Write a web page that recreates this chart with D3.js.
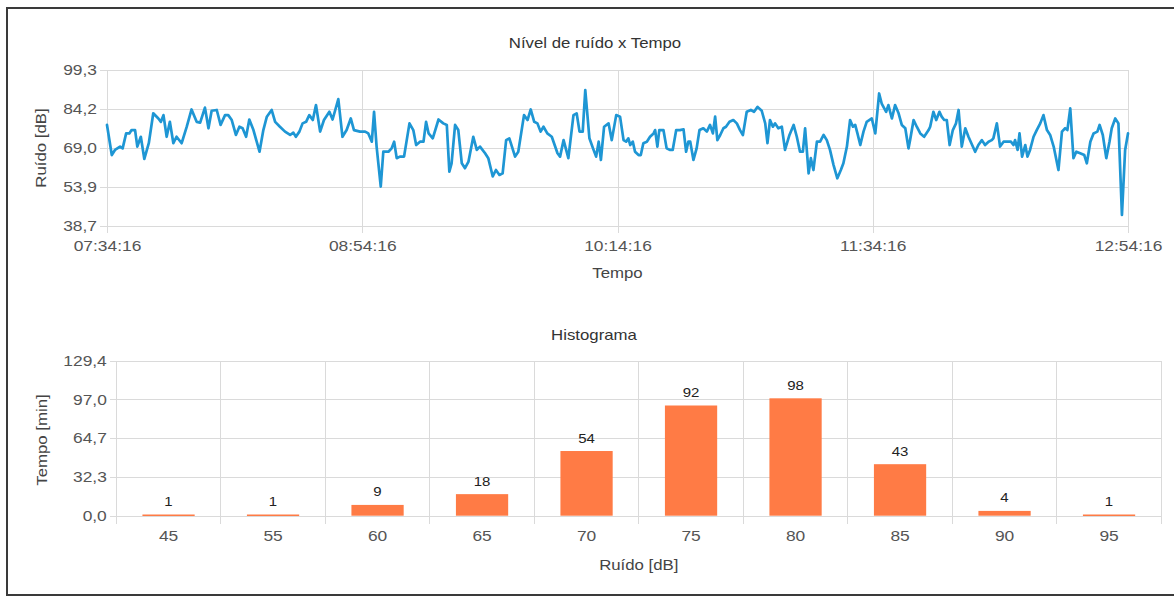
<!DOCTYPE html>
<html>
<head>
<meta charset="utf-8">
<script src="https://cdn.jsdelivr.net/npm/d3@7"></script>
<style>
  html, body { margin: 0; padding: 0; background: #fff; }
  svg { display: block; font-family: "Liberation Sans", Arial, sans-serif; }
</style>
</head>
<body>
<svg id="chart" width="1174" height="596"></svg>
<script>
// ---------------- DATA ----------------
const startTime = "07:34:16";
const timeTicks = ["07:34:16", "08:54:16", "10:14:16", "11:34:16", "12:54:16"];
const noiseTicks = [38.7, 53.85, 69.0, 84.15, 99.3];
const noiseTickLabels = ["38,7", "53,9", "69,0", "84,2", "99,3"];

// minutes elapsed since start, and noise level in dB
const minutes = [
  0,1.5,2.5,4.1,4.9,6.0,7.0,7.7,8.8,9.5,10.6,11.7,13.1,14.5,16.1,16.9,17.7,18.7,19.7,20.8,
  21.8,23.4,25.0,26.5,28.1,29.2,30.7,31.8,32.8,34.4,35.6,37.0,38.0,39.1,40.4,41.5,42.5,43.6,44.6,45.9,
  47.8,49.0,50.1,51.6,52.7,54.2,55.8,57.4,58.4,59.2,60.3,61.3,62.4,63.4,64.5,65.5,66.8,68.0,69.7,70.7,
  72.5,73.8,75.1,76.4,77.4,79.3,
  80.9,81.9,83.0,83.7,84.5,85.8,86.6,88.2,89.2,90.0,90.8,91.8,93.1,94.8,96.0,96.9,98.1,99.2,100.0,100.8,
  102.1,103.9,105.4,106.5,107.3,108.0,109.1,110.1,111.2,112.2,113.3,114.8,115.9,116.9,118.5,119.5,120.9,121.9,123.0,124.0,
  125.1,126.1,127.9,128.9,130.7,131.8,132.8,133.9,134.9,135.9,136.8,138.0,139.4,141.2,142.0,143.1,144.6,146.2,147.2,148.1,
  149.1,149.9,151.2,152.5,153.3,154.1,154.8,155.8,157.2,158.2,159.6,160.8,
  161.9,162.7,163.4,164.0,164.8,165.5,166.6,167.3,168.1,169.2,170.2,171.3,171.8,172.5,173.1,174.4,175.4,176.5,177.3,178.4,
  179.6,180.7,181.5,182.2,182.8,183.8,184.8,185.7,186.9,188.0,189.0,189.9,190.6,191.3,192.2,193.2,194.0,195.1,196.3,197.4,
  198.4,199.3,200.5,201.8,202.8,203.9,205.2,206.3,207.0,207.8,208.7,209.4,210.4,211.5,212.5,213.9,215.2,216.2,217.2,218.1,
  218.8,219.9,220.6,221.4,222.5,223.5,224.6,225.6,226.6,227.7,228.9,230.0,230.8,231.9,232.9,233.8,234.5,235.2,236.1,237.1,
  238.1,239.7,240.8,242.0,
  242.8,244.2,244.9,246.0,247.0,248.1,249.1,250.2,251.2,251.7,252.8,253.8,254.9,256.1,257.5,258.0,259.0,259.9,260.9,261.6,
  262.4,263.2,264.1,265.1,266.1,266.9,267.9,269.0,270.0,272.1,273.1,274.2,275.2,276.3,277.3,277.8,278.9,279.9,281.0,282.0,
  283.3,284.1,284.6,285.4,286.0,286.8,287.8,288.5,289.3,290.4,291.4,292.5,293.5,294.6,295.6,296.7,298.2,299.3,300.3,301.0,
  301.9,302.9,303.8,305.0,306.3,307.1,308.2,309.2,310.4,311.1,312.1,313.2,314.2,314.9,316.0,317.0,318.1,319.1,320.0
];
const noise = [
  77.8,66.1,68.1,69.4,68.7,74.5,74.5,75.8,75.8,69.4,73.2,64.6,70.7,82.3,80.3,79.0,81.6,73.2,79.0,70.7,
  73.2,70.7,77.1,83.8,79.0,78.7,84.5,76.5,83.3,83.6,77.8,81.6,81.6,79.7,73.9,77.1,76.5,73.2,79.9,75.8,
  67.4,75.8,81.0,83.6,79.0,77.1,75.2,73.9,74.8,73.2,75.2,78.4,79.0,81.6,79.7,85.5,75.2,79.7,82.9,79.9,
  87.8,73.2,75.8,80.3,75.8,75.2,
  75.2,74.5,71.3,82.9,69.4,53.9,67.4,67.4,68.7,71.3,64.9,65.5,65.5,78.4,75.8,70.0,71.3,71.3,79.0,74.5,
  72.6,79.9,78.4,77.8,59.7,62.9,77.8,75.8,62.9,61.0,63.6,73.2,68.1,69.4,66.8,64.9,57.8,60.3,58.4,59.0,
  71.9,72.6,65.5,67.4,81.6,79.7,83.8,79.0,78.4,75.2,77.1,74.5,73.2,66.8,65.5,71.9,64.9,81.6,82.3,75.2,
  75.2,91.3,72.6,68.1,65.5,71.3,64.2,77.1,78.4,71.9,81.6,81.0,
  71.9,71.3,72.6,70.0,71.3,67.4,66.1,66.1,70.7,71.3,73.2,74.5,75.8,69.4,75.8,75.8,68.7,68.1,68.1,75.8,
  75.8,76.1,67.4,71.3,71.3,64.2,68.7,75.8,76.5,75.2,77.8,74.5,81.0,71.9,73.9,76.5,77.1,79.0,79.7,78.4,
  75.8,73.9,82.9,83.6,82.9,84.8,83.3,78.4,70.7,79.7,77.1,78.4,76.5,77.1,68.1,73.9,77.8,73.2,67.4,67.4,
  76.5,59.0,64.9,60.3,71.3,71.3,73.9,71.9,68.1,62.3,57.1,60.3,62.9,69.4,79.7,77.1,77.8,74.5,70.0,75.2,
  79.0,80.3,74.5,90.0,
  86.1,82.9,85.5,80.3,85.5,82.3,77.8,76.5,68.7,71.9,79.7,77.1,74.5,73.2,75.8,77.1,82.9,79.7,82.9,81.0,
  79.7,79.7,70.0,75.8,78.4,83.6,69.4,76.5,73.2,67.4,70.0,71.9,70.0,71.3,71.9,72.6,78.4,69.4,71.3,71.3,
  71.3,70.0,71.9,68.1,74.5,65.5,70.0,65.5,68.1,73.2,75.8,78.4,81.6,75.8,73.9,69.4,60.3,75.2,76.5,75.8,
  84.2,64.9,67.4,66.8,66.1,62.9,71.3,74.5,75.2,77.8,73.9,64.9,71.3,76.5,80.3,78.4,42.9,68.1,74.5
];

const histBins = ["45", "55", "60", "65", "70", "75", "80", "85", "90", "95"];
const histCounts = [1, 1, 9, 18, 54, 92, 98, 43, 4, 1];
const histTicks = [0, 32.35, 64.7, 97.05, 129.4];
const histTickLabels = ["0,0", "32,3", "64,7", "97,0", "129,4"];

// ---------------- DRAWING ----------------
const svg = d3.select("#chart");
const SX = 1.2;          // horizontal stretch of the reference typography
const GRID = "#dadada";
const TICK_TXT = "#555";
const TITLE_TXT = "#333";

svg.append("rect").attr("x", 0).attr("y", 0).attr("width", 1174).attr("height", 596).attr("fill", "#fff");
svg.append("rect").attr("x", 7).attr("y", 8).attr("width", 1190).attr("height", 587)
  .attr("fill", "none").attr("stroke", "#3a3a3a").attr("stroke-width", 2);

function label(x, y, s, opt = {}) {
  const rot = opt.rotate ? ` rotate(${opt.rotate})` : "";
  svg.append("text")
    .attr("transform", `translate(${x},${y})${rot} scale(${SX},1)`)
    .attr("text-anchor", opt.anchor || "middle")
    .attr("font-size", opt.size || 14)
    .attr("fill", opt.fill || TITLE_TXT)
    .text(s);
}
function styleAxis(g, size) {
  g.select(".domain").remove();
  g.selectAll(".tick line").attr("stroke", GRID).attr("stroke-width", 1).attr("shape-rendering", "crispEdges");
  g.selectAll(".tick text").attr("fill", TICK_TXT).attr("font-size", size)
    .attr("font-family", "'Liberation Sans', Arial, sans-serif")
    .each(function () {
      const t = d3.select(this);
      const x = +t.attr("x") || 0, y = +t.attr("y") || 0;
      t.attr("transform", `translate(${x},${y}) scale(${SX},1)`).attr("x", 0).attr("y", 0);
    });
}

// ---- Line chart ----
const parseT = d3.timeParse("%H:%M:%S");
const t0 = parseT(startTime);
const P1 = { left: 107, right: 1128, top: 69.5, bottom: 225.7 };
const x1 = d3.scaleTime()
  .domain([parseT(timeTicks[0]), parseT(timeTicks[timeTicks.length - 1])])
  .range([P1.left, P1.right]);
const y1 = d3.scaleLinear().domain([38.7, 99.3]).range([P1.bottom, P1.top]);

const gy1 = svg.append("g").attr("transform", `translate(${P1.left - 7},0)`)
  .call(d3.axisLeft(y1).tickValues(noiseTicks)
    .tickFormat((d, i) => noiseTickLabels[i])
    .tickSizeInner(-(P1.right - P1.left + 7)).tickSizeOuter(0).tickPadding(3));
styleAxis(gy1, 14.5);
gy1.selectAll(".tick line").attr("x2", P1.right - P1.left + 7);

const gx1 = svg.append("g").attr("transform", `translate(0,${P1.bottom + 7})`)
  .call(d3.axisBottom(x1).tickValues(timeTicks.map(parseT))
    .tickFormat(d3.timeFormat("%H:%M:%S"))
    .tickSizeInner(-(P1.bottom + 7 - P1.top)).tickSizeOuter(0).tickPadding(8));
styleAxis(gx1, 14.5);

const pts = d3.zip(minutes, noise).map(([m, v]) => ({ t: d3.timeSecond.offset(t0, Math.round(m * 60)), v }));
svg.append("path").datum(pts)
  .attr("fill", "none").attr("stroke", "#1e96d4").attr("stroke-width", 2.7)
  .attr("stroke-linejoin", "round").attr("stroke-linecap", "round")
  .attr("d", d3.line().x(d => x1(d.t)).y(d => y1(d.v)));

label(595, 47.5, "Nível de ruído x Tempo", { size: 14 });
label((P1.left + P1.right) / 2, 278, "Tempo", { size: 14, fill: "#444" });
label(46, 148, "Ruído [dB]", { size: 14, rotate: -90, fill: "#444" });

// ---- Histogram ----
const P2 = { left: 116.3, right: 1161.3, top: 360.7, bottom: 515.7 };
const xb = d3.scaleBand().domain(histBins).range([P2.left, P2.right]).paddingInner(0.5).paddingOuter(0.25);
const y2 = d3.scaleLinear().domain([0, 129.4]).range([P2.bottom, P2.top]);

const gy2 = svg.append("g").attr("transform", `translate(${P2.left - 6.5},0)`)
  .call(d3.axisLeft(y2).tickValues(histTicks)
    .tickFormat((d, i) => histTickLabels[i])
    .tickSizeInner(-(P2.right - P2.left + 6.5)).tickSizeOuter(0).tickPadding(3));
styleAxis(gy2, 14.5);

// band boundaries (vertical grid)
const bounds = d3.range(histBins.length + 1).map(i => P2.left + i * xb.step());
svg.append("g").selectAll("line").data(bounds).join("line")
  .attr("x1", d => d).attr("x2", d => d).attr("y1", P2.top).attr("y2", P2.bottom + 8)
  .attr("stroke", GRID).attr("shape-rendering", "crispEdges");

const gx2 = svg.append("g").attr("transform", `translate(0,${P2.bottom})`)
  .call(d3.axisBottom(xb).tickSize(0).tickPadding(15));
gx2.selectAll(".tick line").remove();
styleAxis(gx2, 14.5);

svg.append("g").selectAll("rect").data(histBins).join("rect")
  .attr("x", d => xb(d)).attr("width", xb.bandwidth())
  .attr("y", (d, i) => y2(histCounts[i]))
  .attr("height", (d, i) => Math.max(1.5, P2.bottom - y2(histCounts[i])))
  .attr("fill", "#ff7b45");

histBins.forEach((b, i) => {
  label(xb(b) + xb.bandwidth() / 2, y2(histCounts[i]) - 8.5, String(histCounts[i]), { size: 12.5, fill: "#222" });
});

label(594, 340, "Histograma", { size: 14 });
label((P2.left + P2.right) / 2, 570, "Ruído [dB]", { size: 14, fill: "#444" });
label(47, 440, "Tempo [min]", { size: 14, rotate: -90, fill: "#444" });
</script>
</body>
</html>
